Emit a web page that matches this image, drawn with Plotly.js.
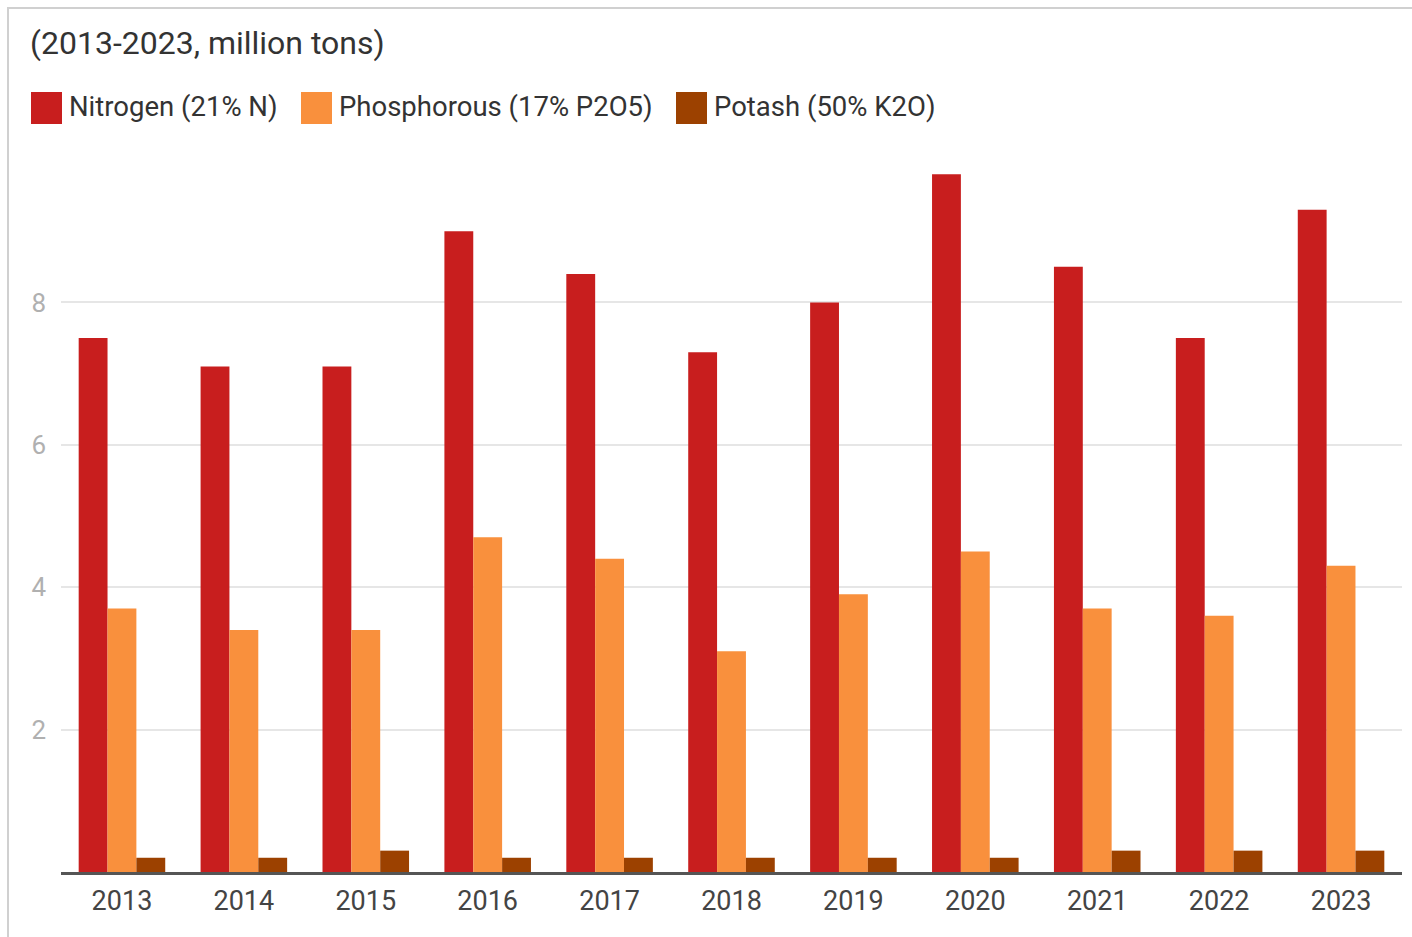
<!DOCTYPE html>
<html>
<head>
<meta charset="utf-8">
<script src="https://cdn.plot.ly/plotly-3.0.1.min.js"></script>
<style>
  html, body { margin: 0; padding: 0; background: #fff; }
  #wrap { position: relative; width: 1412px; height: 937px; }
  #chart { width: 1412px; height: 937px; }
  #frame { position: absolute; left: 7px; top: 7px; right: 0; bottom: 0;
           border-left: 2px solid #d0d0d0; border-top: 2px solid #d0d0d0; pointer-events: none; }
</style>
</head>
<body>
<div id="wrap"><div id="chart"></div><div id="frame"></div></div>
<script>
const years = ['2013','2014','2015','2016','2017','2018','2019','2020','2021','2022','2023'];
const nitrogen = [7.5, 7.1, 7.1, 9.0, 8.4, 7.3, 8.0, 9.8, 8.5, 7.5, 9.3];
const phosphorous = [3.7, 3.4, 3.4, 4.7, 4.4, 3.1, 3.9, 4.5, 3.7, 3.6, 4.3];
const potash = [0.2, 0.2, 0.3, 0.2, 0.2, 0.2, 0.2, 0.2, 0.3, 0.3, 0.3];
const seriesNames = ['Nitrogen (21% N)', 'Phosphorous (17% P2O5)', 'Potash (50% K2O)'];
const colors = ['#c81e1e', '#f9903d', '#9c4100'];
const yTicks = [2, 4, 6, 8];
const chartTitle = '(2013-2023, million tons)';

const W = 1412, H = 937;
const M = {l: 61, r: 10, t: 160, b: 65};
const PW = W - M.l - M.r, PH = H - M.t - M.b;
const px = x => (x - M.l) / PW;
const py = y => (H - M.b - y) / PH;

const FONT = 'Roboto, sans-serif';
const values = [nitrogen, phosphorous, potash];
const traces = values.map((v, i) => ({
  type: 'bar', x: years, y: v, name: seriesNames[i],
  marker: {color: colors[i], line: {width: 0}},
  hoverinfo: 'x+y+name'
}));

// custom legend with large swatches
const legendX = [31, 301, 676];
const shapes = [];
const annotations = [];
seriesNames.forEach((n, i) => {
  shapes.push({type: 'rect', xref: 'paper', yref: 'paper',
    x0: px(legendX[i]), x1: px(legendX[i] + 31), y0: py(124), y1: py(92),
    fillcolor: colors[i], line: {width: 0}});
  annotations.push({xref: 'paper', yref: 'paper', x: px(legendX[i] + 36), y: py(106),
    xanchor: 'left', yanchor: 'middle', showarrow: false, text: n,
    font: {family: FONT, size: 27.5, color: '#333'}});
});

const layout = {
  width: W, height: H,
  margin: M,
  paper_bgcolor: '#fff', plot_bgcolor: '#fff',
  title: {text: chartTitle, x: 30 / W, xanchor: 'left', y: 1 - 43 / H, yanchor: 'middle',
          font: {family: FONT, size: 32, color: '#333'}},
  showlegend: false,
  barmode: 'group', bargap: 0.29, bargroupgap: 0,
  xaxis: {type: 'category', tickfont: {family: FONT, size: 27, color: '#444'},
          showgrid: false, showline: true, linecolor: '#555', linewidth: 3,
          ticks: '', ticklabelstandoff: 3, fixedrange: true},
  yaxis: {range: [0, 10], tickvals: yTicks, ticktext: yTicks.map(String),
          tickfont: {family: FONT, size: 26, color: '#b0b0b0'},
          showgrid: true, gridcolor: '#e6e6e6', gridwidth: 2,
          zeroline: false, showline: false, ticks: '', ticklabelstandoff: 14, fixedrange: true},
  shapes: shapes,
  annotations: annotations,
  font: {family: FONT}
};

Plotly.newPlot('chart', traces, layout, {displayModeBar: false, staticPlot: true});
</script>
</body>
</html>
